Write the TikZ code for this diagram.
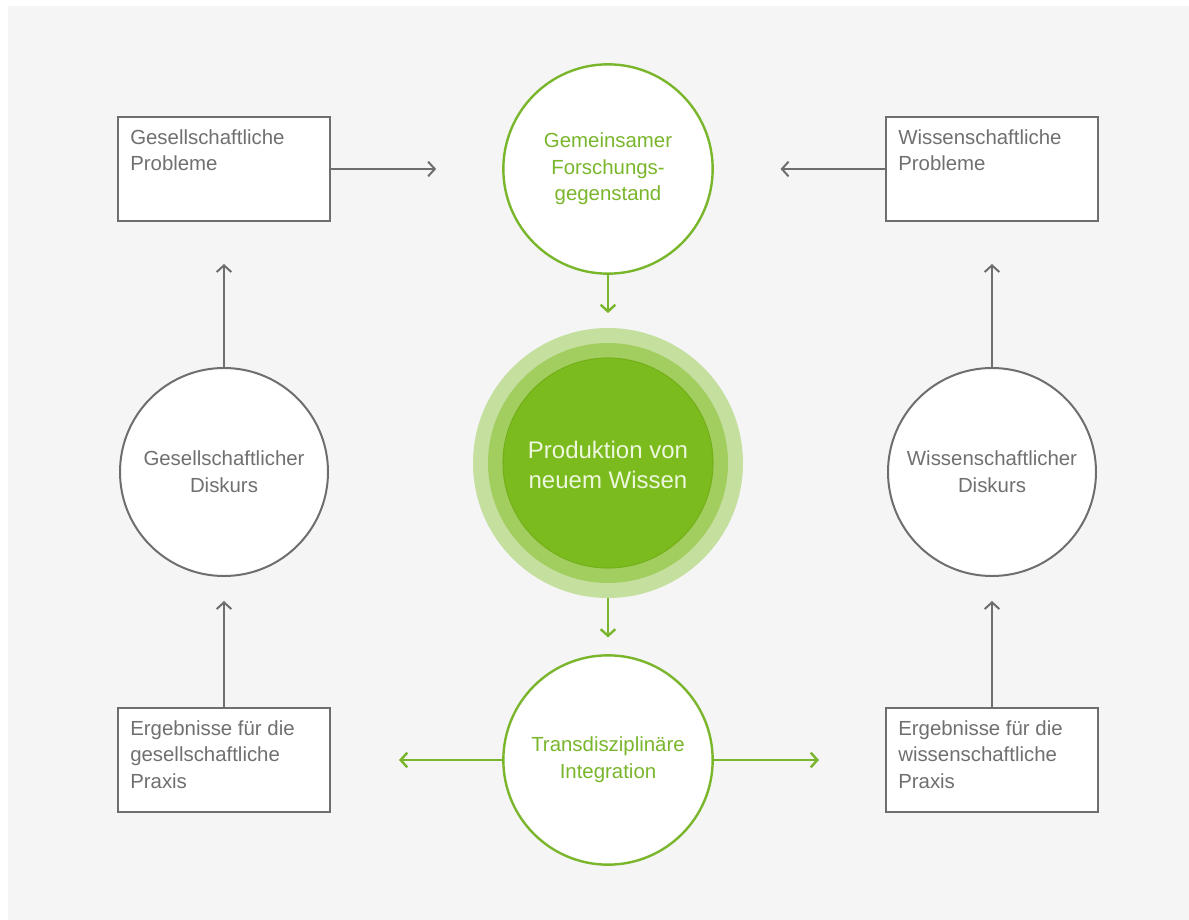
\documentclass[tikz,border=0pt]{standalone}
\usepackage{fontspec}
\setmainfont{Liberation Sans}
\usetikzlibrary{arrows.meta,calc}
\definecolor{bg}{HTML}{F5F5F5}
\definecolor{gline}{HTML}{6E6E6E}
\definecolor{gtext}{HTML}{707070}
\definecolor{grn}{HTML}{7AB62C}
\definecolor{ring1}{HTML}{C4DF9E}
\definecolor{ring2}{HTML}{A2CD5F}
\definecolor{core}{HTML}{7BBB1E}
\definecolor{coreedge}{HTML}{74B01A}
\definecolor{coretext}{HTML}{EDF7DD}
\begin{document}
\begin{tikzpicture}[x=0.75pt,y=-0.75pt,
 txt/.style={font=\fontsize{15.3}{20}\selectfont},
 box/.style={draw=gline, line width=1.5pt, fill=white, minimum width=159pt, minimum height=78pt, inner sep=0pt},
 boxtext/.style={txt, text=gtext, align=left, inner sep=0pt, anchor=north west},
 gcirc/.style={circle, draw=gline, line width=1.5pt, fill=white, minimum size=156pt, inner sep=0pt, txt, text=gtext, align=center},
 ccirc/.style={circle, draw=grn, line width=1.8pt, fill=white, minimum size=157pt, inner sep=0pt, txt, text=grn, align=center},
 ring/.style={circle, inner sep=0pt, draw=none},
 garrow/.style={draw=gline, line width=1.5pt, -{Straight Barb[length=5pt,width=11pt]}},
 carrow/.style={draw=grn, line width=1.8pt, -{Straight Barb[length=5pt,width=11pt]}}
]
\useasboundingbox (0,0) rectangle (1189,920);
\fill[white] (0,0) rectangle (1189,920);
\fill[bg] (8,6) rectangle (1189,920);

% boxes
\node[box] (gp) at (224,169) {};
\node[boxtext] (gpt) at ($(gp.north west)+(13,13)$) {Gesellschaftliche\\Probleme};
\node[box] (wp) at (992,169) {};
\node[boxtext] (wpt) at ($(wp.north west)+(13,13)$) {Wissenschaftliche\\Probleme};
\node[box] (ge) at (224,760) {};
\node[boxtext] (get) at ($(ge.north west)+(13,13)$) {Ergebnisse für die\\gesellschaftliche\\Praxis};
\node[box] (we) at (992,760) {};
\node[boxtext] (wet) at ($(we.north west)+(13,13)$) {Ergebnisse für die\\wissenschaftliche\\Praxis};

% grey circles
\node[gcirc] (gd) at (224,472) {Gesellschaftlicher\\Diskurs};
\node[gcirc] (wd) at (992,472) {Wissenschaftlicher\\Diskurs};

% green circles
\node[ccirc] (fg) at (608,169) {Gemeinsamer\\Forschungs-\\gegenstand};
\node[ccirc] (ti) at (608,760) {Transdisziplinäre\\Integration};

% central
\node[ring, fill=ring1, minimum size=202.5pt] (prodouter) at (608,463) {};
\node[ring, fill=ring2, minimum size=180pt] (prodmid) at (608,463) {};
\node[circle, inner sep=0pt, fill=core, draw=coreedge, line width=0.8pt, minimum size=157.5pt] (prod) at (608,463) {};
\node[font=\fontsize{18}{22}\selectfont, text=coretext, align=center, inner sep=0pt] (prodtext) at (608,465) {Produktion von\\neuem Wissen};

% arrows
\draw[garrow, shorten >=49.5pt] (gp) -- (fg);
\draw[garrow, shorten >=50pt] (wp) -- (fg);
\draw[carrow, shorten >=11pt] (fg) -- (prodouter);
\draw[carrow, shorten >=12.5pt] (prodouter) -- (ti);
\draw[carrow, shorten >=51pt] (ti) -- (ge);
\draw[carrow, shorten >=49.5pt] (ti) -- (we);
\draw[garrow, shorten >=18pt] (ge) -- (gd);
\draw[garrow, shorten >=31.5pt] (gd) -- (gp);
\draw[garrow, shorten >=18pt] (we) -- (wd);
\draw[garrow, shorten >=31.5pt] (wd) -- (wp);
\end{tikzpicture}
\end{document}
